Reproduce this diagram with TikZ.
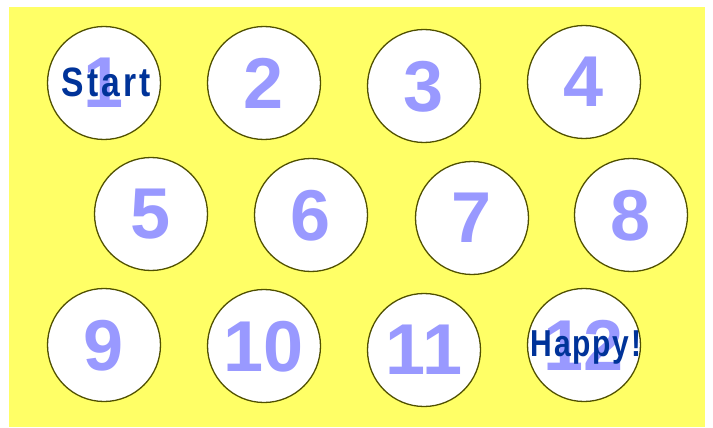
\documentclass[tikz,border=0pt]{standalone}
\usepackage{fontspec}
\setmainfont{Liberation Sans}
\newfontfamily\spacedfont[LetterSpace=9]{Liberation Sans}
\newfontfamily\happyfont[LetterSpace=6]{Liberation Sans}
\usepackage{graphicx}
\definecolor{bgyellow}{RGB}{255,255,102}
\definecolor{ringcol}{RGB}{80,80,0}
\definecolor{numcol}{RGB}{153,153,255}
\definecolor{labcol}{RGB}{0,51,153}
\tikzset{
  spot/.style={circle,draw=ringcol,line width=1.3pt,fill=white,minimum size=113pt,inner sep=0pt,
    text=numcol,font=\fontsize{72}{72}\selectfont\bfseries,text depth=0pt},
  lab/.style={inner sep=0pt,text=labcol,text depth=0pt}
}
\begin{document}
\begin{tikzpicture}[x=1pt,y=-1pt]
\useasboundingbox (0,0) rectangle (713,428);
\fill[white] (0,0) rectangle (713,428);
\fill[bgyellow] (9,7) rectangle (705,427);
\node[spot] (c1) at (104,83) {1};
\node[spot] (c2) at (264,83) {2};
\node[spot] (c3) at (424,86) {3};
\node[spot] (c4) at (584,82) {4};
\node[spot] (c5) at (151,214) {5};
\node[spot] (c6) at (311,215) {6};
\node[spot] (c7) at (472,218) {7};
\node[spot] (c8) at (631,215) {8};
\node[spot] (c9) at (104,345) {9};
\node[spot] (c10) at (264,346) {10};
\node[spot] (c11) at (424,350) {11};
\node[spot] (c12) at (584,345) {12};
\node[lab,font=\spacedfont\fontsize{41}{41}\selectfont\bfseries] (start) at (106,82) {\scalebox{0.82}[1]{Start}};
\node[lab,font=\happyfont\fontsize{37.5}{37.5}\selectfont\bfseries] (happy) at (586,343.5) {\scalebox{0.8}[1]{Happy!}};
\end{tikzpicture}
\end{document}
